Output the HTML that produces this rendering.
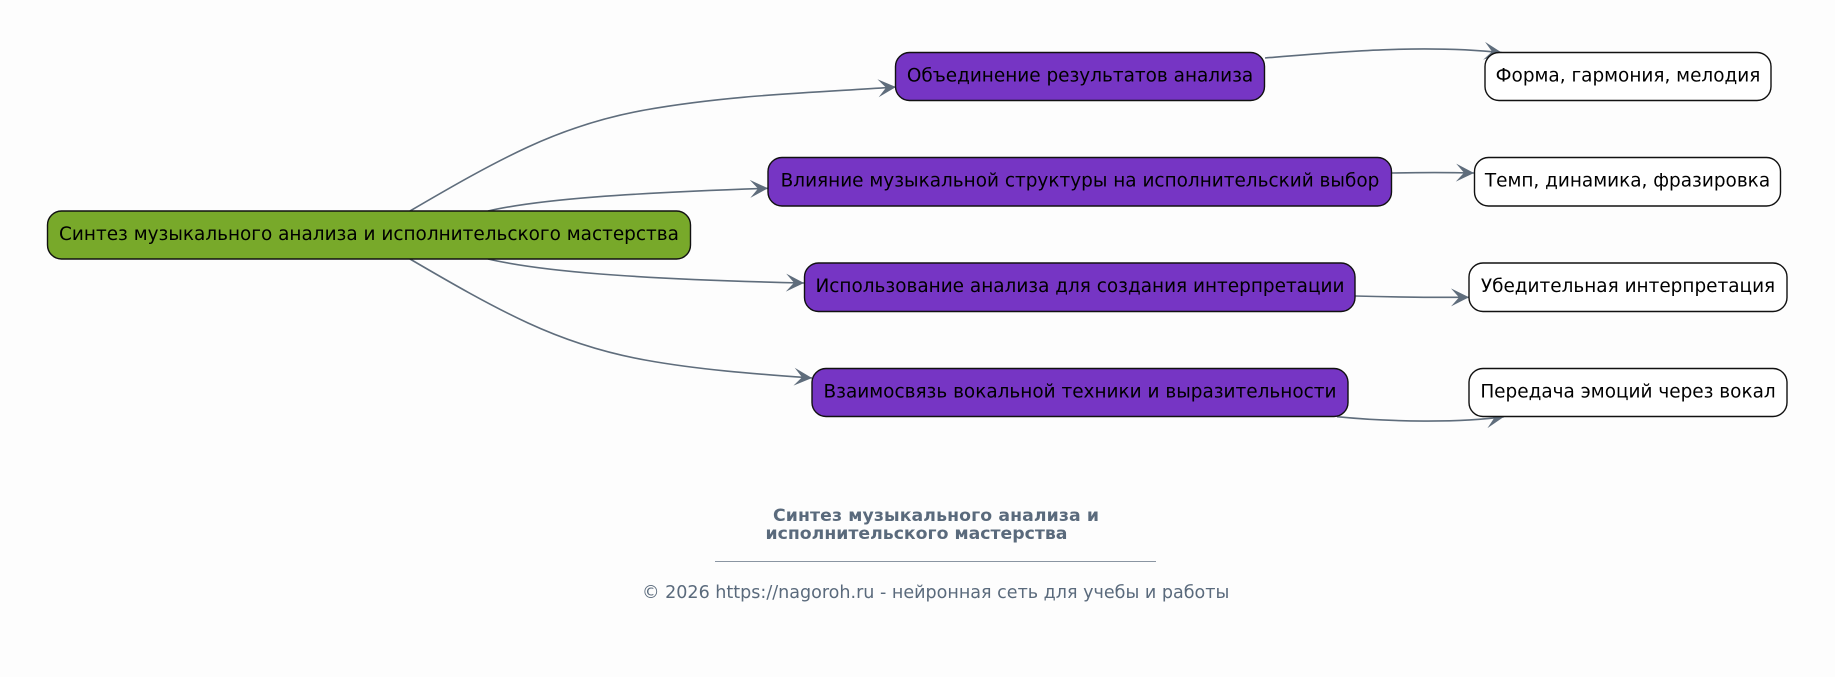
<!DOCTYPE html>
<html><head><meta charset="utf-8"><style>
html,body{margin:0;padding:0;background:#fdfdfd;width:1835px;height:677px;overflow:hidden}
svg{display:block}
text{font-family:"DejaVu Sans",sans-serif}
.n text,text.n{font-size:18.45px;fill:#000;text-anchor:middle}
.e{fill:none;stroke:#5f6d7c;stroke-width:1.6;marker-end:url(#a)}
</style></head><body>
<svg width="1835" height="677" viewBox="0 0 1835 677" xmlns="http://www.w3.org/2000/svg">
<defs><marker id="a" markerUnits="userSpaceOnUse" markerWidth="24" markerHeight="24" refX="20" refY="12" orient="auto" viewBox="0 0 24 24"><path d="M20 12L2 3L10 12L2 21Z" fill="#5f6d7c"/></marker></defs>
<path class="e" d="M410 211C449 188.2 489 165 528 147C567 129 606 117 645 110C729 95 812 92.7 896 87"/>
<path class="e" d="M488 211C540 199 630 193 768 188.3"/>
<path class="e" d="M488 259C540 271 630 279 804 283"/>
<path class="e" d="M410 259C449 281.8 489 305 528 323C567 341 606 353 645 360C700 370 757 374 812 378"/>
<path class="e" d="M1265 58C1330 52.5 1420 44 1502 52.7"/>
<path class="e" d="M1392 173C1420 172.5 1450 172.5 1474 173"/>
<path class="e" d="M1355 296C1390 297 1430 297.5 1469 297.3"/>
<path class="e" d="M1337 416.7C1390 422 1460 423 1504 416.7"/>
<g stroke="#111" stroke-width="1.4">
<rect x="47.5" y="211" width="643" height="48" rx="14" fill="#78a92a"/>
<rect x="895.5" y="52.5" width="369" height="48" rx="14" fill="#7635c4"/>
<rect x="768" y="157.5" width="623.5" height="48.5" rx="14" fill="#7635c4"/>
<rect x="804.5" y="263" width="550.5" height="48.5" rx="14" fill="#7635c4"/>
<rect x="812" y="368.5" width="536" height="48" rx="14" fill="#7635c4"/>
<rect x="1485" y="52.5" width="286" height="48" rx="14" fill="#fff"/>
<rect x="1474.5" y="157.5" width="306" height="48.5" rx="14" fill="#fff"/>
<rect x="1469" y="263" width="318" height="48.5" rx="14" fill="#fff"/>
<rect x="1469" y="368.5" width="318" height="48" rx="14" fill="#fff"/>
</g>
<g class="n">
<text x="369" y="240">Синтез музыкального анализа и исполнительского мастерства</text>
<text x="1080" y="81.5">Объединение результатов анализа</text>
<text x="1080" y="186.5">Влияние музыкальной структуры на исполнительский выбор</text>
<text x="1080" y="292">Использование анализа для создания интерпретации</text>
<text x="1080" y="397.5">Взаимосвязь вокальной техники и выразительности</text>
<text x="1628" y="81.5">Форма, гармония, мелодия</text>
<text x="1627.5" y="186.5">Темп, динамика, фразировка</text>
<text x="1628" y="292">Убедительная интерпретация</text>
<text x="1628" y="397.5">Передача эмоций через вокал</text>
</g>
<g fill="#5a6a7c">
<text x="773" y="521" font-size="17.3" font-weight="700" textLength="326">Синтез музыкального анализа и</text>
<text x="765.5" y="539" font-size="17.3" font-weight="700">исполнительского мастерства</text>
<rect x="715" y="561" width="441" height="1" fill="#8a95a2"/>
<text x="642" y="598" font-size="17.55">© 2026 https://nagoroh.ru - нейронная сеть для учебы и работы</text>
</g>
</svg>
</body></html>
